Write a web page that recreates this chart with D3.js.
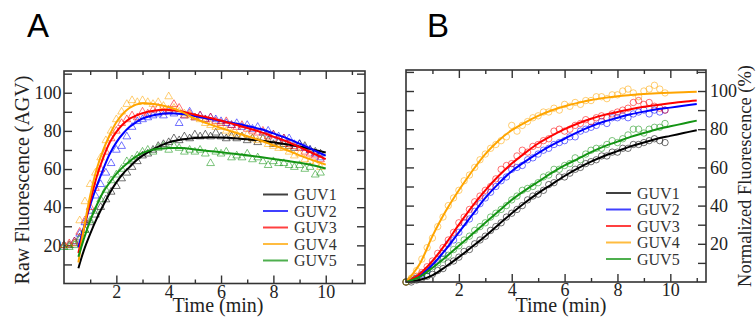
<!DOCTYPE html>
<html>
<head>
<meta charset="utf-8">
<script src="https://cdn.jsdelivr.net/npm/d3@7"></script>
<style>
  body { margin: 0; background: #fff; }
  svg { display: block; }
</style>
</head>
<body>
<svg id="chart" width="756" height="324"></svg>
<script>
// sample times (min) of the measured points
const times = [0, 0.2, 0.4, 0.6, 0.8, 1, 1.2, 1.4, 1.6, 1.8,
  2, 2.2, 2.4, 2.6, 2.8, 3, 3.2, 3.4, 3.6, 3.8,
  4, 4.2, 4.4, 4.6, 4.8, 5, 5.2, 5.4, 5.6, 5.8,
  6, 6.2, 6.4, 6.6, 6.8, 7, 7.2, 7.4, 7.6, 7.8,
  8, 8.2, 8.4, 8.6, 8.8, 9, 9.2, 9.4, 9.6, 9.8]

const series = ['GUV1', 'GUV2', 'GUV3', 'GUV4', 'GUV5']
const colors = ['#000000', '#0000ff', '#ff0000', '#ffa500', '#139413']

const xTicksMajor = [2, 4, 6, 8, 10]
const xTicksMinor = [1, 3, 5, 7, 9, 11]
const yTicksMajor = [20, 40, 60, 80, 100]
const yTicksMinor = [10, 30, 50, 70, 90, 110]

// panel A: raw fluorescence (AGV)
const rawGUV1 = [20, 20, 21, 24, 28, 32, 36, 40, 44, 48, 51, 55, 58, 61, 64, 67, 68, 70, 72, 73,
  74, 76, 75, 77, 76, 78, 77, 78, 77, 79, 77, 76, 77, 76, 77, 75, 76, 74, 76, 75,
  73, 74, 73, 72, 71, 73, 72, 70, 69, 68]
const rawGUV2 = [20, 20, 22, 26, 32, 38, 46, 52, 58, 63, 70, 72, 77, 82, 85, 86, 87, 88, 89, 88,
  90, 89, 84, 88, 90, 87, 88, 86, 87, 86, 85, 84, 83, 84, 82, 83, 81, 82, 79, 80,
  78, 77, 76, 76, 73, 73, 71, 70, 68, 66]
const rawGUV3 = [20, 21, 22, 27, 33, 40, 50, 60, 69, 76, 80, 84, 86, 88, 87, 90, 89, 91, 92, 90,
  91, 94, 92, 88, 89, 87, 88, 86, 87, 85, 84, 85, 83, 82, 83, 81, 80, 79, 80, 77,
  78, 75, 76, 73, 72, 71, 69, 68, 67, 65]
const rawGUV4 = [20, 20, 21, 33, 43, 52, 58, 66, 75, 80, 86, 90, 94, 96, 95, 96, 95, 94, 95, 93,
  98, 92, 90, 89, 88, 87, 86, 84, 83, 82, 82, 80, 79, 78, 77, 78, 76, 75, 76, 73,
  72, 71, 71, 69, 67, 68, 65, 64, 63, 61]
const rawGUV5 = [19, 19, 20, 23, 28, 33, 38, 44, 49, 54, 57, 60, 64, 65, 67, 69, 70, 69, 71, 72,
  70, 72, 71, 69, 70, 69, 70, 68, 63, 69, 68, 69, 66, 67, 66, 68, 65, 66, 64, 62,
  64, 63, 63, 62, 61, 62, 60, 61, 57, 58]

// fitted curves, panel A
const rawFitTimes = [0.55, 0.75, 1, 1.25, 1.5, 1.75, 2, 2.25, 2.5, 2.75, 3, 3.5, 4, 4.5, 5,
  5.5, 6, 6.5, 7, 7.5, 8, 8.5, 9, 9.5, 10]
const rawFit1 = [8, 17, 26, 34, 41, 47.5, 53, 57.5, 61, 64.3, 67, 71, 74, 75.5, 76.3,
  76.6, 76.5, 76.2, 75.6, 75, 74, 73, 71.8, 70.3, 68.7]
const rawFit2 = [19, 29, 41, 51, 60, 68, 74, 78.5, 82, 84.5, 86.5, 88.5, 89.2, 88.8, 87.8,
  86.5, 85.2, 84, 82.6, 81, 78.7, 76.2, 73.3, 70.2, 67]
const rawFit3 = [16, 28, 43, 56, 66, 74, 79.5, 83.5, 86.3, 88, 89.3, 90.7, 91, 90.2, 88.5,
  87, 85.3, 83.5, 81.5, 79.5, 77, 74.5, 71.5, 68.3, 65.2]
const rawFit4 = [11, 28, 46, 60, 70, 78, 84.5, 89, 92, 93.8, 94.5, 94, 92.5, 90, 86.5,
  83.8, 81.5, 79.3, 77.2, 75, 72.5, 70, 67.2, 64.7, 62.3]
const rawFit5 = [14, 23, 33, 41, 48, 53, 57.5, 61, 64, 66.5, 68.5, 70.5, 71, 71, 70.3,
  69.5, 68.8, 68, 67.2, 66.3, 65.3, 64.3, 63.3, 62, 60.3]

// panel B: normalized fluorescence (%)
const normGUV1 = [0, 0, 1, 2, 3, 4, 6, 7, 10, 11, 13, 16, 17, 20, 22, 24, 27, 29, 31, 34,
  36, 38, 40, 43, 45, 46, 48, 51, 52, 55, 55, 57, 59, 60, 62, 63, 64, 66, 66, 68,
  68, 70, 70, 72, 72, 73, 74, 75, 74, 73]
const normGUV2 = [0, 1, 2, 4, 6, 9, 12, 15, 20, 22, 26, 31, 33, 37, 41, 44, 47, 50, 53, 55,
  59, 60, 61, 64, 65, 67, 69, 70, 72, 73, 74, 76, 76, 79, 80, 81, 82, 84, 83, 86,
  86, 87, 86, 88, 89, 90, 88, 90, 89, 90]
const normGUV3 = [0, 1, 3, 5, 8, 11, 15, 18, 22, 26, 31, 34, 38, 42, 45, 48, 50, 54, 59, 61,
  62, 66, 69, 68, 71, 72, 74, 75, 79, 80, 79, 80, 82, 83, 85, 84, 86, 87, 86, 88,
  89, 90, 91, 94, 95, 93, 94, 92, 91, 90]
const normGUV4 = [0, 2, 6, 12, 18, 23, 29, 34, 40, 44, 48, 53, 56, 60, 64, 67, 70, 72, 74, 76,
  82, 79, 82, 84, 86, 87, 89, 89, 91, 90, 93, 92, 94, 93, 95, 95, 97, 97, 96, 98,
  98, 100, 101, 99, 97, 100, 101, 103, 101, 99]
const normGUV5 = [0, 1, 2, 3, 6, 8, 10, 12, 14, 17, 19, 22, 24, 27, 29, 31, 34, 36, 38, 40,
  43, 45, 48, 49, 50, 52, 55, 56, 59, 59, 61, 62, 65, 64, 67, 69, 70, 70, 72, 74,
  73, 75, 77, 80, 80, 78, 80, 81, 81, 83]

// fitted curves, panel B
const normFitTimes = [0, 0.5, 1, 1.5, 2, 2.5, 3, 3.5, 4, 4.5, 5, 5.5, 6, 6.5, 7, 7.5, 8,
  8.5, 9, 9.5, 10, 10.5, 11]
const normFit1 = [0, 1, 3.5, 8, 13, 18.5, 24, 30, 36, 41.5, 46.5, 51, 55.5, 59.5, 63, 66,
  68.5, 71, 73, 75, 76.5, 78, 79.5]
const normFit2 = [0, 3, 9, 17, 26, 35, 44, 51.5, 58, 63, 67.5, 71.5, 75, 78.5, 81.5, 84,
  86, 87.8, 89.2, 90.4, 91.3, 92.3, 93.2]
const normFit3 = [0, 4, 11, 20, 30, 39.5, 48, 55.5, 62, 67.5, 72.5, 76.5, 80, 83, 85.5, 87.5,
  89, 90.5, 91.7, 92.7, 93.6, 94.4, 95]
const normFit4 = [0, 9, 24, 37, 48, 58, 67, 74, 79.5, 83.5, 87, 89.8, 92, 93.8, 95.3, 96.4,
  97.3, 97.9, 98.4, 98.8, 99.1, 99.4, 99.6]
const normFit5 = [0, 2.5, 7.5, 13, 19, 25, 31, 37, 43, 48, 52.5, 57, 61, 64.5, 68, 71,
  73.5, 76, 78, 80, 81.5, 83, 84.5]

const serif = 'Liberation Serif, Times New Roman, serif'
const svg = d3.select('#chart')

function drawPanel(p) {
  const x = d3.scaleLinear().domain([0, p.xMax]).range([p.left, p.right])
  const y = d3.scaleLinear().domain([0, p.yMax]).range([p.bottom, p.top])
  const g = svg.append('g')

  const axis = (gen, pos, values, size, labels, pad) => {
    const a = g.append('g')
      .attr('transform', pos)
      .call(gen.tickValues(values).tickSize(-size).tickPadding(pad)
        .tickFormat(labels ? d3.format('d') : ''))
    a.select('.domain').remove()
    a.selectAll('line').attr('stroke', '#333').attr('stroke-width', 1.4)
    a.selectAll('text').attr('font-family', serif).attr('font-size', 18).attr('fill', '#222')
    return a
  }

  axis(d3.axisBottom(x), `translate(0,${p.bottom})`, xTicksMajor, 8, true, 1.5)
  axis(d3.axisBottom(x), `translate(0,${p.bottom})`, xTicksMinor, 4, false, 1.5)
  axis(d3.axisTop(x), `translate(0,${p.top})`, xTicksMajor, 8, false, 2)
  axis(d3.axisTop(x), `translate(0,${p.top})`, xTicksMinor, 4, false, 2)
  axis(d3.axisLeft(y), `translate(${p.left},0)`, yTicksMajor, 8, p.labelSide === 'left', p.pad)
  axis(d3.axisLeft(y), `translate(${p.left},0)`, yTicksMinor, 8, false, p.pad)
  axis(d3.axisRight(y), `translate(${p.right},0)`, yTicksMajor, 8, p.labelSide === 'right', p.pad)
  axis(d3.axisRight(y), `translate(${p.right},0)`, yTicksMinor, 8, false, p.pad)

  // measured points
  p.data.forEach((vals, i) => {
    const pts = g.append('g')
      .attr('fill', 'none')
      .attr('stroke', colors[i])
      .attr('stroke-opacity', 0.55)
      .attr('stroke-width', 1)
    if (p.marker === 'triangle') {
      pts.selectAll('path').data(vals).enter().append('path')
        .attr('d', d3.symbol(d3.symbolTriangle, 26))
        .attr('transform', (v, k) => `translate(${x(times[k])},${y(v)})`)
    } else {
      pts.selectAll('circle').data(vals).enter().append('circle')
        .attr('cx', (v, k) => x(times[k]))
        .attr('cy', v => y(v))
        .attr('r', 3.2)
    }
  })

  // fitted curves
  const line = d3.line()
    .x((v, k) => x(p.fitTimes[k]))
    .y(v => y(v))
    .curve(d3.curveCatmullRom)
  p.fits.forEach((vals, i) => {
    g.append('path')
      .attr('d', line(vals))
      .attr('fill', 'none')
      .attr('stroke', colors[i])
      .attr('stroke-width', 2)
  })

  // frame
  g.append('rect')
    .attr('x', p.left).attr('y', p.top)
    .attr('width', p.right - p.left).attr('height', p.bottom - p.top)
    .attr('fill', 'none').attr('stroke', '#333').attr('stroke-width', 1.6)

  // legend
  series.forEach((name, i) => {
    const ly = p.legendY + i * 16.5
    g.append('line')
      .attr('x1', p.legendX).attr('x2', p.legendX + 25)
      .attr('y1', ly).attr('y2', ly)
      .attr('stroke', colors[i]).attr('stroke-width', 2).attr('stroke-opacity', 0.75)
    g.append('text')
      .attr('x', p.legendX + 31).attr('y', ly + 5.5)
      .attr('font-family', serif).attr('font-size', 16).attr('fill', '#333')
      .text(name)
  })

  g.append('text')
    .attr('x', p.xTitleX).attr('y', 312)
    .attr('text-anchor', 'middle')
    .attr('font-family', serif).attr('font-size', 20).attr('fill', '#222')
    .text('Time (min)')

  g.append('text')
    .attr('transform', `translate(${p.yTitleX},${p.yTitleY}) rotate(-90)`)
    .attr('text-anchor', 'middle')
    .attr('font-family', serif).attr('font-size', p.yTitleSize).attr('fill', '#222')
    .text(p.yTitle)

  g.append('text')
    .attr('x', p.letterX).attr('y', 37)
    .attr('font-family', 'Liberation Sans, Arial, sans-serif').attr('font-size', 33)
    .text(p.letter)
}

drawPanel({
  left: 64, right: 365, top: 71, bottom: 283.5, xMax: 11.5, yMax: 111.4, pad: 2.5,
  labelSide: 'left', marker: 'triangle',
  data: [rawGUV1, rawGUV2, rawGUV3, rawGUV4, rawGUV5],
  fits: [rawFit1, rawFit2, rawFit3, rawFit4, rawFit5], fitTimes: rawFitTimes,
  legendX: 263, legendY: 194.5,
  xTitleX: 218, yTitle: 'Raw Fluorescence (AGV)', yTitleX: 29, yTitleY: 180, yTitleSize: 20,
  letter: 'A', letterX: 27
})

drawPanel({
  left: 406, right: 706, top: 70, bottom: 282, xMax: 11.35, yMax: 111, pad: 4,
  labelSide: 'right', marker: 'circle',
  data: [normGUV1, normGUV2, normGUV3, normGUV4, normGUV5],
  fits: [normFit1, normFit2, normFit3, normFit4, normFit5], fitTimes: normFitTimes,
  legendX: 606, legendY: 193,
  xTitleX: 561, yTitle: 'Normalized Fluorescence (%)', yTitleX: 751, yTitleY: 176, yTitleSize: 18.5,
  letter: 'B', letterX: 427
})
</script>
</body>
</html>
